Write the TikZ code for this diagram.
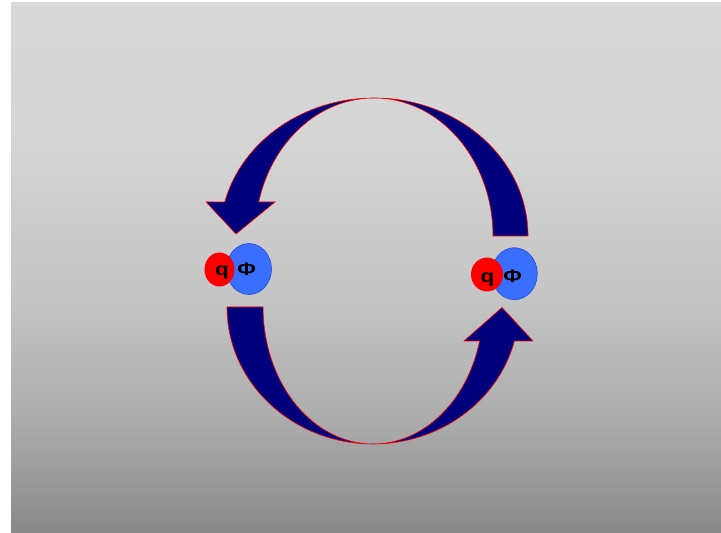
\documentclass[tikz,border=0pt]{standalone}
\usepackage{fontspec}
\setmainfont{Liberation Sans}
\usetikzlibrary{shapes.geometric}
\definecolor{navyarrow}{RGB}{0,0,125}
\definecolor{ballblue}{RGB}{58,110,255}
\definecolor{ballblueline}{RGB}{40,75,215}
\definecolor{ballred}{RGB}{250,0,0}
\definecolor{bgA}{RGB}{217,217,217}
\definecolor{bgB}{RGB}{212,212,212}
\definecolor{bgC}{RGB}{196,196,196}
\definecolor{bgD}{RGB}{172,172,172}
\definecolor{bgE}{RGB}{137,137,137}
\tikzset{
  bigarrow/.style={fill=navyarrow, draw=red, line width=0.6pt, line join=miter},
  blueball/.style={ellipse, fill=ballblue, draw=ballblueline, line width=0.6pt, inner sep=0pt},
  redball/.style={ellipse, fill=ballred, inner sep=0pt},
  lbl/.style={font=\fontsize{18}{18}\selectfont\bfseries, text=black, inner sep=0pt, anchor=base, xscale=1.25}
}
\begin{document}
\begin{tikzpicture}[x=1pt,y=1pt]
\useasboundingbox (0,0) rectangle (721,533);
% background
\fill[white] (0,0) rectangle (721,533);
\shade[top color=bgA, bottom color=bgB] (11,530) rectangle (721,383);
\shade[top color=bgB, bottom color=bgC] (11,383.5) rectangle (721,233);
\shade[top color=bgC, bottom color=bgD] (11,233.5) rectangle (721,113);
\shade[top color=bgD, bottom color=bgE] (11,113.5) rectangle (721,0);
% top curved arrow (points down to the left pair)
\path[bigarrow] (528,297)
  arc[start angle=0, end angle=165.74, x radius=154, y radius=138]
  -- (206,331) -- (236,299) -- (275,331) -- (258.7,331)
  arc[start angle=165.74, end angle=0, x radius=119, y radius=138]
  -- cycle;
% bottom curved arrow (points up to the right pair)
\path[bigarrow] (227,226)
  arc[start angle=180, end angle=345.63, x radius=146, y radius=137]
  -- (533,192) -- (502,225.5) -- (464,192) -- (479.6,192)
  arc[start angle=345.63, end angle=180, x radius=110, y radius=137]
  -- cycle;
% left pair
\node[blueball, minimum width=45pt, minimum height=51pt] (phiL) at (249,264) {};
\node[redball, minimum width=30pt, minimum height=34pt] (qL) at (219.5,263.5) {};
\node[lbl] (qtL) at (222,257.5) {q};
\node[lbl] (ptL) at (246.5,257.5) {Φ};
% right pair
\node[blueball, minimum width=45.6pt, minimum height=52pt] (phiR) at (514.5,259.3) {};
\node[redball, minimum width=32pt, minimum height=34pt] (qR) at (487,258.5) {};
\node[lbl] (qtR) at (487.5,250.5) {q};
\node[lbl] (ptR) at (512.5,250.5) {Φ};
\end{tikzpicture}
\end{document}
